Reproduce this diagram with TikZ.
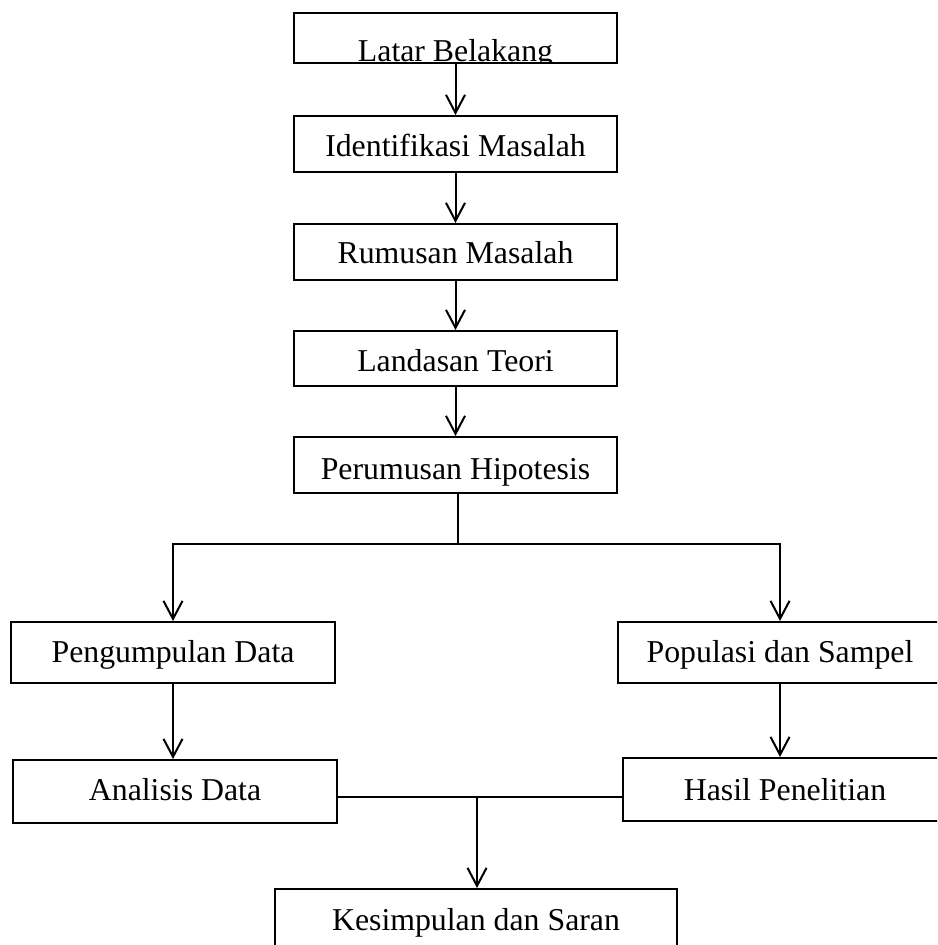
\documentclass[tikz,border=0pt]{standalone}
\usepackage{fontspec}
\setmainfont{Liberation Serif}
\usetikzlibrary{arrows.meta}
\begin{document}
\begin{tikzpicture}[x=0.5pt,y=-0.5pt,
  box/.style={draw,line width=1pt,inner xsep=0pt,inner ysep=0pt,minimum height=0pt,
    font=\fontsize{15.9pt}{19pt}\selectfont},
  tb/.style 2 args={text height=#1,text depth=#2},
  conn/.style={line width=1pt},
  arr/.style={conn,-{Straight Barb[length=9pt,width=9.5pt]}}]
\clip (0,0) rectangle (937,945);
% top box, its text cut by the lower edge
\begin{scope}
  \clip (270,0) rectangle (640,64);
  \node[box,tb={24.5pt}{0.5pt},minimum width=161.5pt] (b1) at (455.5,38) {Latar Belakang};
\end{scope}
\node[box,tb={20.5pt}{7.5pt},minimum width=161.5pt] (b2) at (455.5,144) {Identifikasi Masalah};
\node[box,tb={20pt}{8pt},minimum width=161.5pt] (b3) at (455.5,252) {Rumusan Masalah};
\node[box,tb={20.5pt}{7pt},minimum width=161.5pt] (b4) at (455.5,358.5) {Landasan Teori};
\node[box,tb={21pt}{7pt},minimum width=161.5pt] (b5) at (455.5,465) {Perumusan Hipotesis};
\node[box,tb={20pt}{10.5pt},minimum width=162pt] (b6) at (173,652.5) {Pengumpulan Data};
\node[box,tb={20pt}{10.5pt},minimum width=162pt] (b7) at (780,652.5) {Populasi dan Sampel};
\node[box,tb={20pt}{11.5pt},minimum width=162pt] (b8) at (175,791.5) {Analisis Data};
\node[box,tb={21pt}{10.5pt},minimum width=162pt] (b9) at (785,789.5) {Hasil Penelitian};
\node[box,tb={20.5pt}{10.5pt},minimum width=201pt] (b10) at (476,920) {Kesimpulan dan Saran};
% connectors
\draw[arr] (b1) -- (b2);
\draw[arr] (b2) -- (b3);
\draw[arr] (b3) -- (b4);
\draw[arr] (b4) -- (b5);
\coordinate (j1) at (458,544);
\draw[conn] (b5.south -| j1) -- (j1);
\draw[arr] (j1) -| (b6.north);
\draw[arr] (j1) -| (b7.north);
\draw[arr] (b6.south) -- (b6.south |- b8.north);
\draw[arr] (b7.south) -- (b7.south |- b9.north);
\coordinate (j2) at (477,797);
\draw[conn] (b8.east |- j2) -- (b9.west |- j2);
\draw[arr] (j2) -- (j2 |- b10.north);
\end{tikzpicture}
\end{document}
